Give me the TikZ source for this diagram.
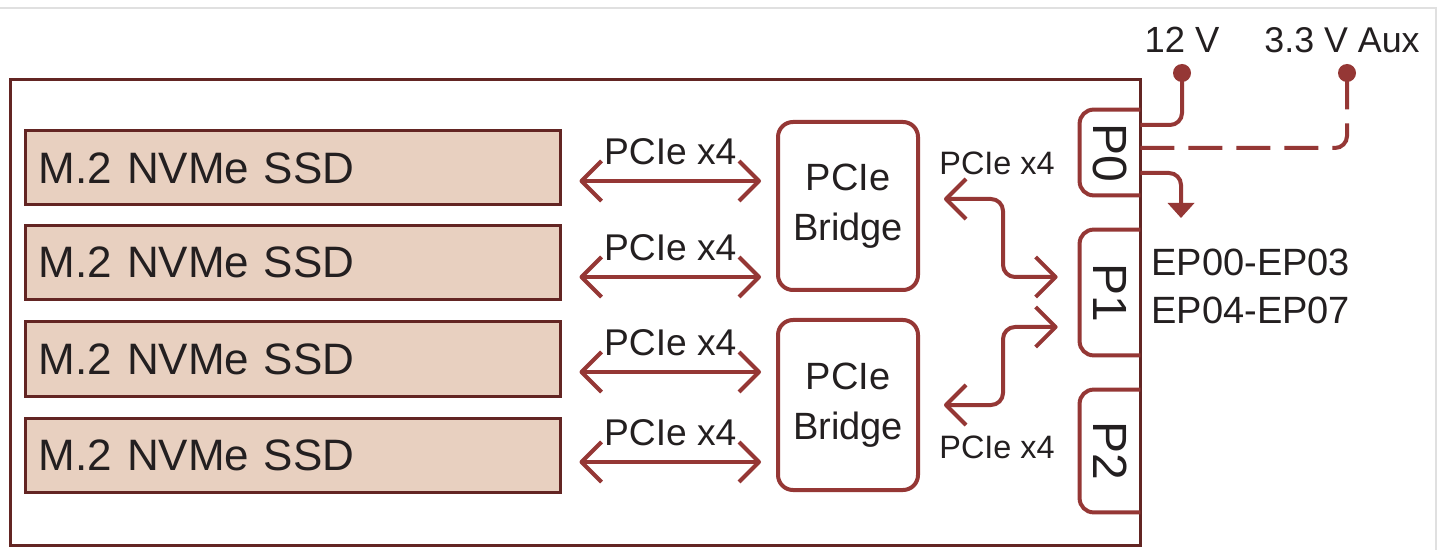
\documentclass[tikz,border=0pt]{standalone}
\usepackage{fontspec}
\setmainfont{Liberation Sans}
\usetikzlibrary{arrows.meta,calc}
\definecolor{mred}{HTML}{953735}
\definecolor{mdark}{HTML}{632523}
\definecolor{mfill}{HTML}{E8D0C0}
\definecolor{mtext}{HTML}{231F20}
\tikzset{
  ssd/.style={draw=mdark,line width=1.5pt,fill=mfill,minimum width=267.5pt,minimum height=37pt,
    text width=253.5pt,inner xsep=7pt,align=left,font=\fontsize{22}{24}\selectfont,text=mtext},
  bridge/.style={draw=mred,line width=2pt,rounded corners=7.5pt,minimum width=70pt,minimum height=84pt,
    align=center,font=\fontsize{19}{25}\selectfont,text=mtext},
  port/.style={minimum width=30pt,font=\fontsize{24}{26}\selectfont,text=mtext,rotate=-90},
  dbl/.style={draw=mred,line width=2pt,line join=round,
    {Straight Barb[length=10pt,width=20pt,line join=round]}-{Straight Barb[length=10pt,width=20pt,line join=round]}},
  lbl/.style={font=\fontsize{18.6}{20}\selectfont,text=mtext,inner sep=0pt},
  slbl/.style={font=\fontsize{16.2}{18}\selectfont,text=mtext,inner sep=0pt},
  wire/.style={draw=mred,line width=2pt,rounded corners=6pt},
}
\begin{document}
\begin{tikzpicture}[x=0.5pt,y=-0.5pt]
\useasboundingbox (0,0) rectangle (1439,550);
\fill[white] (0,0) rectangle (1439,550);
\draw[black!12,line width=0.8pt] (0,8) -- (1436,8) -- (1436,550);
% board
\node[draw=mdark,line width=1.5pt,minimum width=565pt,minimum height=232.5pt,inner sep=0pt] (board) at (575,312.5) {};
% SSDs
\node[ssd] (s1) at (292.5,168) {M.2 NVMe SSD};
\node[ssd] (s2) at (292.5,262.5) {M.2 NVMe SSD};
\node[ssd] (s3) at (292.5,359) {M.2 NVMe SSD};
\node[ssd] (s4) at (292.5,455) {M.2 NVMe SSD};
% bridges
\node[bridge] (b1) at (848,206) {PCIe\\Bridge};
\node[bridge,minimum height=85pt] (b2) at (848,405) {PCIe\\Bridge};
% ports
\node[minimum width=30pt,minimum height=42.5pt,inner sep=0pt] (p0) at (1110,152.5) {};
\node[minimum width=30pt,minimum height=62.5pt,inner sep=0pt] (p1) at (1110,292.5) {};
\node[minimum width=30pt,minimum height=61pt,inner sep=0pt] (p2) at (1110,451) {};
\foreach \p in {p0,p1,p2}{
  \draw[mred,line width=2pt,rounded corners=7pt] (\p.north east) -- (\p.north west) -- (\p.south west) -- (\p.south east);
}
\node[port] at (p0) {P0};
\node[port] at (p1) {P1};
\node[port] at (p2) {P2};
% SSD-bridge links
\draw[dbl] ($(s1.east)+(18,13)$) coordinate (a1) -- ($(b1.west |- a1)+(-15,0)$) coordinate (a1e);
\node[lbl] at ($(a1)!0.5!(a1e)+(0,-29)$) {PCIe x4};
\draw[dbl] ($(s2.east)+(18,14.5)$) coordinate (a2) -- ($(b1.west |- a2)+(-15,0)$) coordinate (a2e);
\node[lbl] at ($(a2)!0.5!(a2e)+(0,-29)$) {PCIe x4};
\draw[dbl] ($(s3.east)+(18,13)$) coordinate (a3) -- ($(b2.west |- a3)+(-15,0)$) coordinate (a3e);
\node[lbl] at ($(a3)!0.5!(a3e)+(0,-29)$) {PCIe x4};
\draw[dbl] ($(s4.east)+(18,7)$) coordinate (a4) -- ($(b2.west |- a4)+(-15,0)$) coordinate (a4e);
\node[lbl] at ($(a4)!0.5!(a4e)+(0,-29)$) {PCIe x4};
% bridge-P1 links
\draw[dbl,rounded corners=6pt] ($(b1.east)+(24,-7)$) -- ++(59,0) |- ($(p1.west)+(-22,-15.5)$);
\draw[dbl,rounded corners=6pt] ($(b2.east)+(24,0)$) -- ++(59,0) |- ($(p1.west)+(-22,34.5)$);
\node[slbl] at (997,163) {PCIe x4};
\node[slbl] at (997,447) {PCIe x4};
% power
\coordinate (v12) at (1182,73);
\coordinate (vaux) at (1347,73);
\coordinate (ep) at (1181,218);
\draw[wire] ($(p0.east)+(0,-27.5)$) -| (v12);
\draw[wire,dash pattern=on 17pt off 7pt] ($(p0.east)+(0,-4.5)$) -| (vaux);
\draw[wire,-{Triangle[length=7.5pt,width=13pt]}] ($(p0.east)+(0,20.5)$) -| (ep);
\fill[mred] (v12) circle[radius=4.5pt];
\fill[mred] (vaux) circle[radius=4.5pt];
\node[lbl,font=\fontsize{18.2}{20}\selectfont] (t12) at (1182,40) {12 V};
\node[lbl,font=\fontsize{17.9}{20}\selectfont] (taux) at (1342,40) {3.3 V Aux};
\node[lbl,font=\fontsize{19}{20}\selectfont,anchor=west] (e1) at (1151,262) {EP00-EP03};
\node[lbl,font=\fontsize{19}{20}\selectfont,anchor=west] (e2) at (1151,310) {EP04-EP07};
\end{tikzpicture}
\end{document}
